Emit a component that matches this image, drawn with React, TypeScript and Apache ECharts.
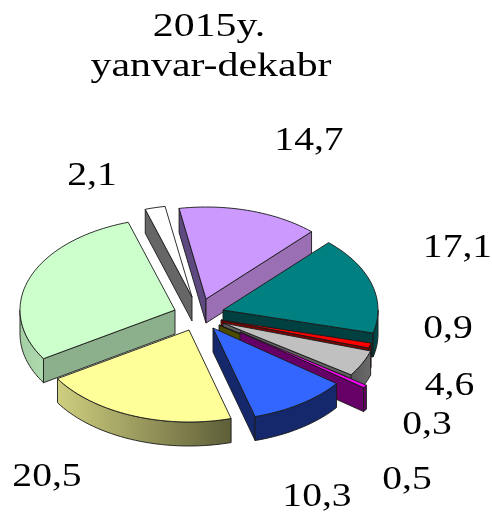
import React, { useEffect, useRef } from "react";
import * as echarts from "echarts";

// Data (the unlabelled green slice is the remainder, estimated)
const titleLines = ["2015y.", "yanvar-dekabr"];
const sliceNames = ["purple", "teal", "red", "gray", "olive", "magenta", "blue", "yellow", "green", "white"];
const sliceValues = [14.7, 17.1, 0.9, 4.6, 0.3, 0.5, 10.3, 20.5, 29.0, 2.1];
const labelledSlices = [true, true, true, true, true, true, true, true, false, true];

// Layout & style
const WIDTH = 492;
const HEIGHT = 513;
const CENTER = [200, 312];
const RX = 155;
const RY = 92;
const DEPTH = 24;
const START_ANGLE = -10;
const explodeShift = [[6, -13], [23, -2], [21, 8], [23, 11], [19, 13], [40, 20], [13, 16], [-11, 18], [-25, -2], [-8, -15]];
const paintOrder = [9, 0, 1, 8, 2, 3, 4, 5, 6, 7];
const topColors = ["#CC99FF", "#008080", "#FF0000", "#C0C0C0", "#808000", "#FF00FF", "#3366FF", "#FFFF99", "#CCFFCC", "#FFFFFF"];
const startWallColors = ["#5E4A80", "#004040", "#800000", "#606060", "#404000", "#660066", "#14286B", "#80804D", "#8CB08C", "#666666"];
const endWallColors = ["#9A6FB3", "#004040", "#800000", "#606060", "#4A4A00", "#660066", "#14286B", "#80804D", "#8CB08C", "#666666"];
const outerWallStops = [
  ["#9A6FB3", "#9A6FB3"],
  ["#005050", "#003C3C"],
  ["#800000", "#700000"],
  ["#6A6A6A", "#585858"],
  ["#404000", "#404000"],
  ["#660066", "#660066"],
  ["#14286B", "#14286B"],
  ["#CFCF80", "#5E5E38"],
  ["#AEDAAE", "#A4CFA4"],
  ["#666666", "#666666"],
];
const labelCenters = [[309, 139], [457.5, 246], [448, 327], [449.5, 384], [427, 423], [407, 478], [317, 495], [47, 475], null, [92, 174]];
const titleCenters = [[209, 25], [211, 65]];
const FONT = "'Liberation Serif', 'Times New Roman', serif";
const FONT_SIZE = 33;
const LABEL_STRETCH = 1.2;
const TITLE_STRETCH = 1.27;
const EDGE = "#1a1a1a";

const total = sliceValues.reduce((a, b) => a + b, 0);

function sliceAngles(i: number): [number, number] {
  const before = sliceValues.slice(0, i).reduce((a, b) => a + b, 0);
  return [START_ANGLE + (before / total) * 360, START_ANGLE + ((before + sliceValues[i]) / total) * 360];
}

function rim(apex: number[], deg: number, dy = 0): number[] {
  const t = (deg * Math.PI) / 180;
  return [apex[0] + RX * Math.sin(t), apex[1] - RY * Math.cos(t) + dy];
}

function arc(apex: number[], from: number, to: number, dy = 0): number[][] {
  const steps = Math.max(2, Math.ceil(Math.abs(to - from) / 2));
  const pts: number[][] = [];
  for (let k = 0; k <= steps; k++) pts.push(rim(apex, from + ((to - from) * k) / steps, dy));
  return pts;
}

function renderSlice(params: any, api: any) {
  const i = api.value(0) as number;
  const [a0, a1] = sliceAngles(i);
  const apex = [CENTER[0] + explodeShift[i][0], CENTER[1] + explodeShift[i][1]];
  const low = [apex[0], apex[1] + DEPTH];
  const sinOf = (d: number) => Math.sin((d * Math.PI) / 180);
  const children: any[] = [];
  const lineStyle = { stroke: EDGE, lineWidth: 0.9, lineJoin: "round" };
  const poly = (points: number[][], fill: any) => ({
    type: "polygon",
    shape: { points },
    style: { fill, ...lineStyle },
  });

  if (sinOf(a0) < 0) {
    children.push(poly([apex, rim(apex, a0), rim(low, a0), low], startWallColors[i]));
  }
  if (sinOf(a1) > 0) {
    children.push(poly([apex, rim(apex, a1), rim(low, a1), low], endWallColors[i]));
  }
  const from = Math.max(a0, 90);
  const to = Math.min(a1, 270);
  if (to > from) {
    const stops = outerWallStops[i];
    const fill = new echarts.graphic.LinearGradient(i === 7 ? 0 : 1, 0, i === 7 ? 1 : 0, 0, [
      { offset: 0, color: stops[0] },
      { offset: 1, color: stops[1] },
    ]);
    children.push(poly([...arc(apex, from, to), ...arc(low, to, from)], fill));
  }
  children.push(poly([apex, ...arc(apex, a0, a1)], topColors[i]));
  return { type: "group", children };
}

function textEl(text: string, pos: number[], stretch: number) {
  return {
    type: "text",
    x: pos[0],
    y: pos[1],
    scaleX: stretch,
    silent: true,
    style: {
      text,
      x: 0,
      y: 0,
      fill: "#000",
      font: `${FONT_SIZE}px ${FONT}`,
      textAlign: "center",
      textVerticalAlign: "middle",
    },
  };
}

export default function App() {
  const ref = useRef<HTMLDivElement>(null);
  useEffect(() => {
    const chart = echarts.init(ref.current!, undefined, { renderer: "svg", width: WIDTH, height: HEIGHT });
    const labels = sliceValues
      .map((v, i) => (labelledSlices[i] ? textEl(v.toFixed(1).replace(".", ","), labelCenters[i] as number[], LABEL_STRETCH) : null))
      .filter(Boolean);
    chart.setOption({
      animation: false,
      backgroundColor: "#fff",
      graphic: [...titleLines.map((t, i) => textEl(t, titleCenters[i], TITLE_STRETCH)), ...labels],
      series: [
        {
          type: "custom",
          coordinateSystem: "none",
          renderItem: renderSlice,
          silent: true,
          data: paintOrder.map((i) => ({ name: sliceNames[i], value: [i, sliceValues[i]] })),
        },
      ],
    });
    return () => chart.dispose();
  }, []);
  return (
    <div
      ref={ref}
      style={{ position: "fixed", left: 0, top: 0, width: WIDTH, height: HEIGHT, background: "#fff", filter: "blur(0.5px)" }}
    />
  );
}
